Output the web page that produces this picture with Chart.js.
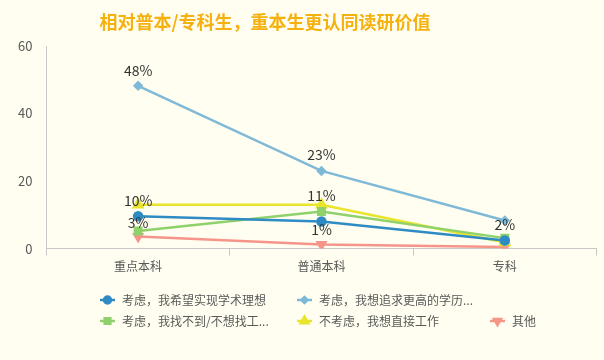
<!DOCTYPE html>
<html>
<head>
<meta charset="utf-8">
<script src="https://cdn.jsdelivr.net/npm/chart.js@4"></script>
<style>
  html, body { margin: 0; padding: 0; background: #fffef0; }
  #wrap { width: 604px; height: 360px; position: relative; }
</style>
</head>
<body>
<div id="wrap"><canvas id="chart"></canvas></div>
<script>
var title = "相对普本/专科生，重本生更认同读研价值";
var categories = ["重点本科", "普通本科", "专科"];

var seriesNames = [
	"考虑，我希望实现学术理想",
	"考虑，我想追求更高的学历...",
	"考虑，我找不到/不想找工...",
	"不考虑，我想直接工作",
	"其他"
];

var academic = [9.6, 8.0, 2.4];
var higherDegree = [48.2, 23.0, 8.3];
var noJob = [5.2, 11.0, 3.1];
var directWork = [13.0, 13.0, 1.8];
var other = [3.6, 1.2, 0.5];

var academicLabels = ["3%", "1%", ""];
var higherDegreeLabels = ["48%", "23%", ""];
var noJobLabels = ["", "", "2%"];
var directWorkLabels = ["10%", "11%", ""];

var yTicks = [0, 20, 40, 60];

var FONT = "'Noto Sans CJK SC', 'Noto Sans', sans-serif";

// labels drawn next to the points
var pointLabels = {
	id: 'pointLabels',
	afterDatasetsDraw: function(chart) {
		var ctx = chart.ctx;
		ctx.save();
		ctx.font = "14px " + FONT;
		ctx.fillStyle = "#333333";
		ctx.textAlign = "center";
		ctx.textBaseline = "middle";
		chart.data.datasets.forEach(function(ds, i) {
			if (!ds.pointText) return;
			var meta = chart.getDatasetMeta(i);
			ds.pointText.forEach(function(t, j) {
				if (!t) return;
				var p = meta.data[j];
				ctx.fillText(t, p.x, p.y + ds.textOffset[j]);
			});
		});
		ctx.restore();
	}
};

// excel style legend: 2 items on first row, 3 on second
var bottomLegend = {
	id: 'bottomLegend',
	afterDraw: function(chart) {
		var ctx = chart.ctx;
		var cols = [100, 297, 490];
		var rows = [300, 321];
		ctx.save();
		ctx.font = "12px " + FONT;
		ctx.textBaseline = "middle";
		ctx.textAlign = "left";
		chart.data.datasets.forEach(function(ds, i) {
			var r = i < 2 ? 0 : 1;
			var c = i < 2 ? i : i - 2;
			var x = cols[c], y = rows[r];
			ctx.strokeStyle = ds.borderColor;
			ctx.lineWidth = 2.5;
			ctx.beginPath();
			ctx.moveTo(x, y);
			ctx.lineTo(x + 15, y);
			ctx.stroke();
			ctx.fillStyle = ds.borderColor;
			Chart.helpers.drawPoint(ctx, {
				pointStyle: ds.pointStyle,
				radius: ds.pointRadius - 0.5,
				rotation: ds.pointRotation || 0,
				borderWidth: 1
			}, x + 7.5, y);
			ctx.fillStyle = "#595959";
			ctx.fillText(ds.label, x + 22, y);
		});
		ctx.restore();
	}
};

// background + title (title in the reference sits left of centre)
var bg = {
	id: 'bg',
	beforeDraw: function(chart) {
		var ctx = chart.ctx;
		ctx.save();
		ctx.fillStyle = "#fffef0";
		ctx.fillRect(0, 0, chart.width, chart.height);
		ctx.font = "bold 18px " + FONT;
		ctx.fillStyle = "#f6b10f";
		ctx.textAlign = "center";
		ctx.textBaseline = "middle";
		ctx.fillText(title, 265, 22);
		ctx.restore();
	}
};

function makeSet(name, values, color, style, radius, rotation, texts, offsets) {
	return {
		label: name,
		data: values,
		borderColor: color,
		backgroundColor: color,
		pointBackgroundColor: color,
		pointBorderColor: color,
		pointStyle: style,
		pointRadius: radius,
		pointRotation: rotation,
		borderWidth: 2.5,
		tension: 0,
		pointText: texts,
		textOffset: offsets
	};
}

var datasets = [
	makeSet(seriesNames[0], academic, "#2e8bc4", "circle", 4, 0, academicLabels, [7, 8, 0]),
	makeSet(seriesNames[1], higherDegree, "#7fb9d8", "rectRot", 3.5, 0, higherDegreeLabels, [-15, -16, 0]),
	makeSet(seriesNames[2], noJob, "#8fd16a", "rect", 4.5, 0, noJobLabels, [0, 0, -13]),
	makeSet(seriesNames[3], directWork, "#e9e42c", "triangle", 5, 0, directWorkLabels, [-4, -9, 0]),
	makeSet(seriesNames[4], other, "#f5958a", "triangle", 4.5, 180, null, null)
];

new Chart(document.getElementById("chart"), {
	type: 'line',
	data: { labels: categories, datasets: datasets },
	plugins: [bg, pointLabels, bottomLegend],
	options: {
		responsive: true,
		maintainAspectRatio: false,
		animation: false,
		layout: { padding: { left: 12, right: 3, top: 46, bottom: 82 } },
		plugins: {
			legend: { display: false },
			tooltip: { enabled: false },
			title: { display: false }
		},
		scales: {
			x: {
				offset: true,
				grid: { display: true, drawOnChartArea: false, drawTicks: true, tickLength: 7, offset: true, color: "#c8c8c8" },
				border: { display: true, color: "#c8c8c8", width: 1 },
				ticks: { color: "#595959", font: { family: FONT, size: 12 }, padding: 4 }
			},
			y: {
				min: 0,
				max: 60,
				afterBuildTicks: function(axis) {
					axis.ticks = yTicks.map(function(v) { return { value: v }; });
				},
				grid: { display: false },
				border: { display: true, color: "#c8c8c8", width: 1 },
				ticks: { color: "#595959", font: { family: FONT, size: 13 }, padding: 6 }
			}
		}
	}
});
</script>
</body>
</html>
